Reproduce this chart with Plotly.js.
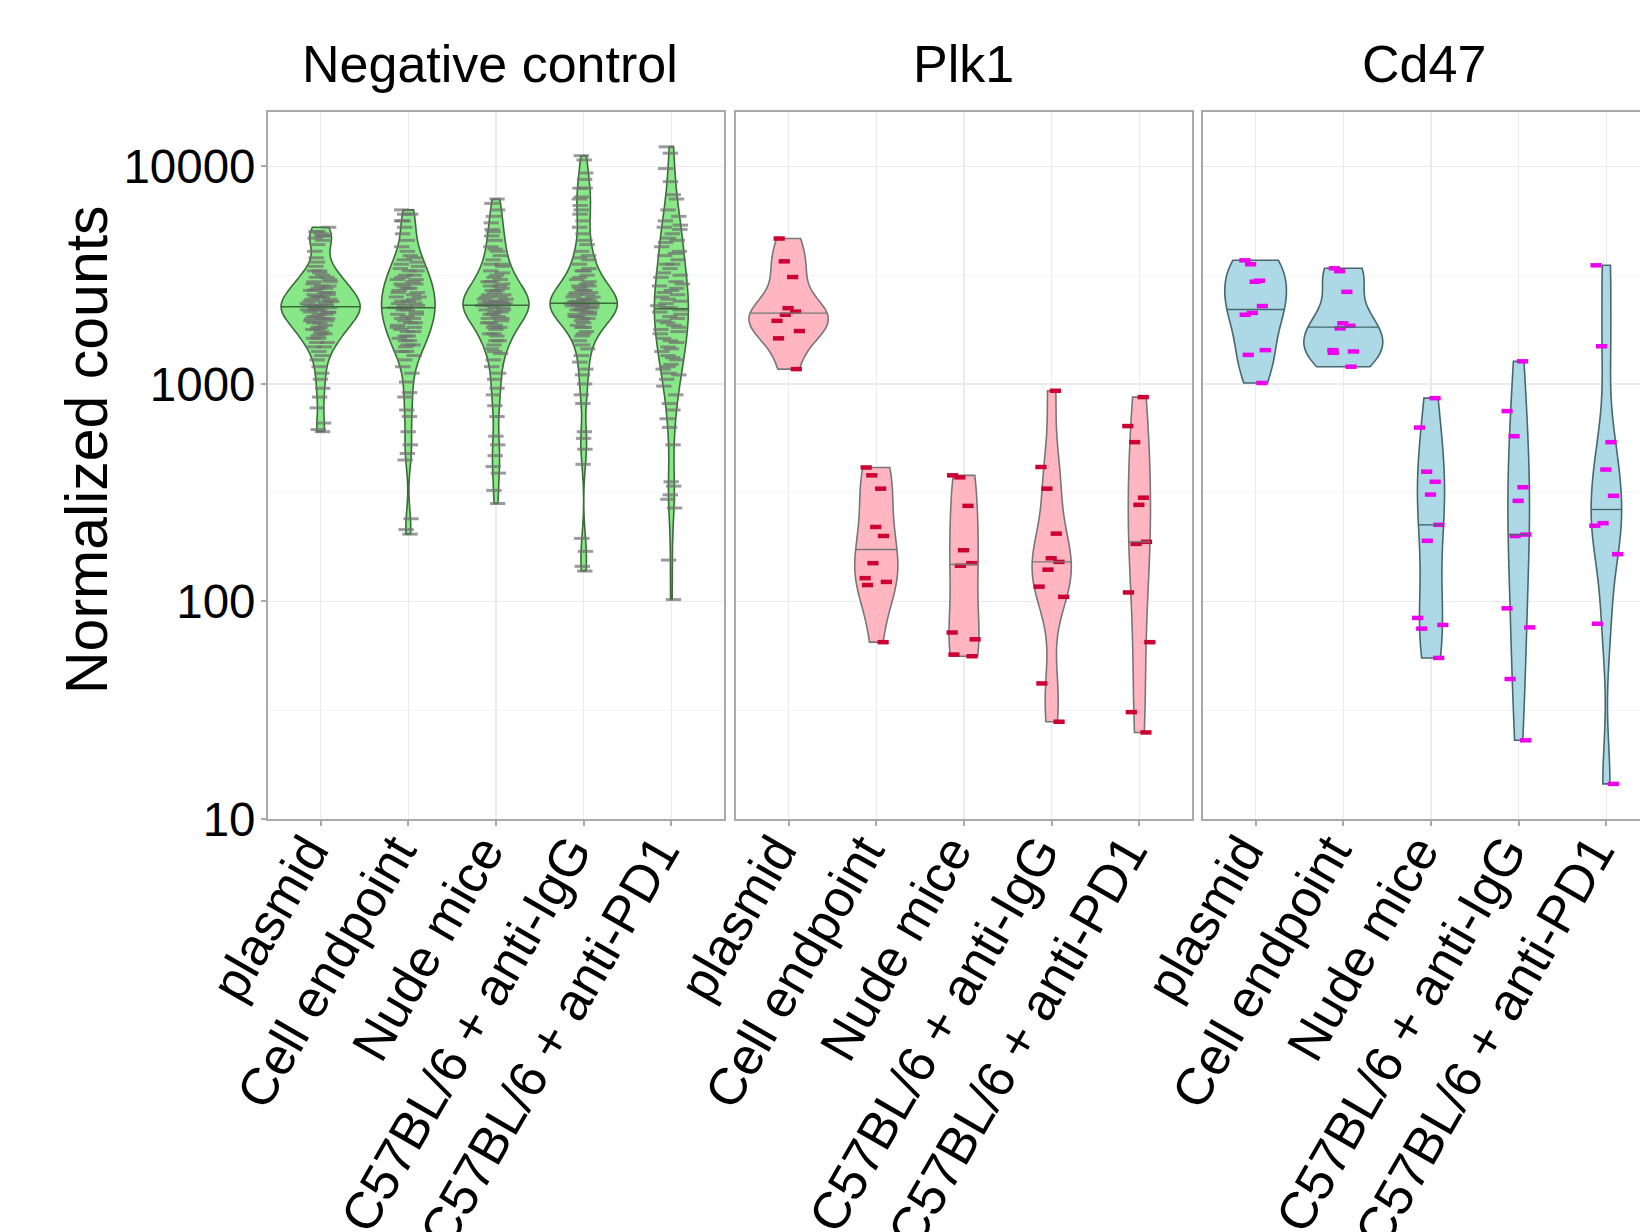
<!DOCTYPE html>
<html><head><meta charset="utf-8">
<script src="https://cdn.plot.ly/plotly-3.0.1.min.js"></script>
<style>html,body{margin:0;padding:0;overflow:hidden;background:#fff}#chart{width:1680px;height:1300px}</style>
</head><body><div id="chart"></div>
<script>
const categories = ["plasmid", "Cell endpoint", "Nude mice", "C57BL/6 + anti-IgG", "C57BL/6 + anti-PD1"];
const panelTitles = ["Negative control", "Plk1", "Cd47"];
const yTickVals = [10, 100, 1000, 10000];
const yTickText = ["10", "100", "1000", "10000"];

// Negative control (normalized counts)
const negPlasmid = [5250,5010,4900,4790,4680,4570,4370,4070,3800,3630,3470,3310,3240,3160,3090,3020,2950,2880,2820,2750,2690,2700,2630,2570,2510,2520,2450,2400,2390,2340,2290,2300,2240,2230,2190,2140,2130,2090,2040,2000,1990,1950,1910,1860,1820,1780,1740,1700,1660,1620,1550,1480,1410,1350,1290,1200,1120,1050,955,870,776,661,617,603,
  3310,3090,2950,2820,2750,2630,2570,2510,2450,2400,2340,2290,2295,2240,2185,2190,2140,2090,2040,1995,1950,1905,1820,1780,1700,1620,1550,1480,4790,5010];
const negCell = [6310,6030,5620,5250,4900,4570,4270,4070,3890,3720,3630,3470,3390,3310,3160,3090,3020,2950,2880,2820,2750,2690,2630,2570,2510,2450,2400,2340,2350,2290,2240,2190,2140,2090,2040,2000,1950,1910,1860,1820,1780,1740,1660,1620,1580,1510,1480,1410,1350,1290,1200,1120,1020,912,871,759,708,603,525,479,447,240,214,204,
  3800,3550,3310,3160,3020,2880,2750,2630,2510,2400,2290,2240,2190,2090,2000,1910,1820,1740,1660,1580,1510,1410,5620,6030];
const negNude = [7080,6760,6310,5890,5500,5130,4790,4570,4270,4070,3890,3720,3550,3470,3310,3240,3090,3020,2950,2880,2820,2750,2690,2630,2570,2510,2450,2400,2390,2340,2350,2290,2300,2240,2190,2140,2090,2040,2000,1950,1910,1860,1820,1780,1700,1660,1580,1510,1450,1380,1290,1200,1120,1050,955,891,794,708,575,525,468,417,389,324,282,
  3550,3160,2950,2820,2690,2570,2510,2450,2400,2340,2345,2290,2240,2190,2140,2090,2000,1910,1820,1700,1580,4170,5010,1410];
const negIgG = [11200,10700,9330,8710,7940,7240,6610,6310,6030,5620,5250,4900,4570,4370,4070,3890,3720,3550,3390,3310,3160,3090,2950,2880,2820,2750,2690,2630,2570,2510,2450,2400,2340,2350,2290,2300,2240,2190,2140,2090,2040,2000,1950,1860,1820,1740,1660,1580,1510,1450,1350,1260,1170,1100,1000,891,813,603,562,501,427,195,170,145,138,
  3020,2820,2690,2630,2570,2510,2450,2400,2395,2340,2350,2290,2285,2240,2235,2190,2140,2090,2040,2000,1910,1820,1700,3310,3800,7080,7940];
const negPD1 = [12300,11500,9770,8510,7410,7080,6310,5890,5620,5370,5130,4900,4680,4470,4270,4070,3890,3720,3550,3390,3240,3090,2950,2820,2690,2570,2510,2450,2340,2290,2240,2190,2140,2040,1950,1860,1780,1700,1620,1550,1480,1410,1350,1290,1230,1170,1120,1050,977,891,813,759,692,631,525,355,339,309,295,269,155,102,
  5250,4570,3980,3550,3160,2880,2630,2400,2240,2090,1910,1740,1580,1450,1320,1200,1100,2750,2000,1820];

// Plk1
const plkPlasmid = [4660,3660,3100,2230,2150,2080,1950,1750,1620,1170];
const plkCell = [413,380,330,220,200,150,128,123,119,65];
const plkNude = [380,372,275,172,150,146,72,67,57,56];
const plkIgG = [930,415,330,205,158,152,140,117,105,42,28];
const plkPD1 = [870,640,540,300,278,188,184,110,65,31,25];

// Cd47
const cdPlasmid = [3700,3550,2980,2950,2280,2120,2080,1430,1360,1010];
const cdCell = [3400,3300,2650,1900,1850,1800,1430,1410,1390,1200];
const cdNude = [860,630,395,355,310,225,190,84,78,75,55];
const cdIgG = [1270,750,575,335,290,203,200,93,76,44,23];
const cdPD1 = [3510,1490,540,404,306,229,223,165,79,14.5];

const panelData = [
  [negPlasmid, negCell, negNude, negIgG, negPD1],
  [plkPlasmid, plkCell, plkNude, plkIgG, plkPD1],
  [cdPlasmid, cdCell, cdNude, cdIgG, cdPD1]
];

const styles = [
  {fill: '#88E888', line: '#3C6A3C', pt: 'rgba(112,112,112,0.7)', size: 11, pw: 3, jit: 0.35},
  {fill: '#FFB6C1', line: '#777777', pt: '#CC0033', size: 8, pw: 4.5, jit: 0.4},
  {fill: '#ADD8E6', line: '#48676E', pt: '#EE00EE', size: 8, pw: 4.5, jit: 0.4}
];

function sortedCopy(v){ return v.slice().sort((a,b)=>a-b); }
function quant(s, p){ const h=(s.length-1)*p, lo=Math.floor(h), hi=Math.min(lo+1,s.length-1); return s[lo]+(h-lo)*(s[hi]-s[lo]); }
function nrd0(v){
  const n=v.length, s=sortedCopy(v);
  const mean=v.reduce((a,b)=>a+b,0)/n;
  const sd=Math.sqrt(v.reduce((a,b)=>a+(b-mean)*(b-mean),0)/(n-1));
  let lo=Math.min(sd,(quant(s,0.75)-quant(s,0.25))/1.34);
  if(!(lo>0)) lo=sd||1;
  return 0.9*lo*Math.pow(n,-0.2);
}
function makeKde(vals,bw){
  const f=1/(vals.length*bw*Math.sqrt(2*Math.PI));
  return x=>{let s=0;for(const v of vals){const u=(x-v)/bw;s+=Math.exp(-0.5*u*u);}return f*s;};
}

const HALF = 0.45;
const traces = [];
const medTraces = [];
panelData.forEach((group, p) => {
  const st = styles[p];
  const xa = 'x' + (p ? p + 1 : '');
  const ya = 'y' + (p ? p + 1 : '');
  let panelMax = 0;
  const info = [];
  group.forEach((vals, i) => {
    const logs = vals.map(v => Math.log10(v));
    const bw = nrd0(logs);
    const k = makeKde(logs, bw);
    const mn = Math.min(...logs), mx = Math.max(...logs);
    const n = Math.ceil((mx - mn) / (bw / 3)), step = (mx - mn) / n;
    for (let t = mn; t < mx + step / 2; t += step) panelMax = Math.max(panelMax, k(t));
    const s = sortedCopy(logs);
    info.push({logs, bw, k, med: quant(s, 0.5), i});
  });
  info.forEach(d => {
    traces.push({
      type: 'violin', x: d.logs.map(() => d.i), y: d.logs, xaxis: xa, yaxis: ya,
      scalegroup: 'g' + p, scalemode: 'width', spanmode: 'hard', bandwidth: d.bw,
      fillcolor: st.fill, line: {color: st.line, width: 1.6},
      points: 'all', jitter: st.jit, pointpos: 0,
      marker: {symbol: 'line-ew', size: st.size, color: st.pt, line: {color: st.pt, width: st.pw}},
      box: {visible: false}, meanline: {visible: false},
      hoverinfo: 'skip', showlegend: false
    });
    const hw = HALF * d.k(d.med) / panelMax;
    medTraces.push({
      type: 'scatter', mode: 'lines', x: [d.i - hw, d.i + hw], y: [d.med, d.med],
      xaxis: xa, yaxis: ya, line: {color: st.line, width: 1.4},
      hoverinfo: 'skip', showlegend: false
    });
  });
});

const W = 1680, H = 1300, L = 268, R = 1659, T = 112, B = 819;
const pw = R - L;
const doms = [[268, 724], [736, 1192], [1203, 1659]].map(d => [(d[0]-L)/pw, (d[1]-L)/pw]);
const titleShift = [-6, 0, -7];
const FONT = 'Liberation Sans, Arial, sans-serif';
const gridCol = '#ebebeb', borderCol = '#a9a9a9';
const logTicks = yTickVals.map(v => Math.log10(v));

const layout = {
  width: W, height: H,
  margin: {l: L, r: W - R, t: T, b: H - B, pad: 0},
  paper_bgcolor: '#fff', plot_bgcolor: '#fff',
  violinmode: 'overlay', violingap: 0.1, violingroupgap: 0,
  showlegend: false,
  font: {family: FONT, color: '#000'},
  annotations: []
};
doms.forEach((d, p) => {
  const sfx = p ? p + 1 : '';
  layout['xaxis' + sfx] = {
    domain: d, anchor: 'y' + sfx, range: [-0.6, 4.6],
    tickmode: 'array', tickvals: [0,1,2,3,4], ticktext: categories, tickangle: -60,
    tickfont: {size: 52, family: FONT, color: '#000'},
    ticks: 'outside', ticklen: 5, tickwidth: 2, tickcolor: borderCol,
    ticklabelstandoff: -26, ticklabelshift: -13,
    showline: true, mirror: true, linecolor: borderCol, linewidth: 2,
    showgrid: true, gridcolor: gridCol, gridwidth: 1.5, zeroline: false, fixedrange: true
  };
  layout['yaxis' + sfx] = {
    domain: [0, 1], anchor: 'x' + sfx, range: [1, 4.25],
    tickmode: 'array', tickvals: logTicks, ticktext: yTickText,
    tickfont: {size: 47.5, family: FONT, color: '#000'},
    showticklabels: p === 0, ticks: p === 0 ? 'outside' : '', ticklen: 5, tickwidth: 2, tickcolor: borderCol,
    ticklabelstandoff: -4,
    showline: true, mirror: true, linecolor: borderCol, linewidth: 2,
    showgrid: true, gridcolor: gridCol, gridwidth: 1.5, zeroline: false, fixedrange: true,
    minor: {tickvals: [1.5, 2.5, 3.5], showgrid: true, gridcolor: '#f4f4f4', gridwidth: 1, ticks: ''}
  };
  if (p) layout['yaxis' + sfx].matches = 'y';
  layout.annotations.push({
    text: panelTitles[p], xref: 'paper', yref: 'paper',
    x: ((d[0] + d[1]) / 2 * pw + titleShift[p]) / pw, y: (B - 64) / (B - T),
    xanchor: 'center', yanchor: 'middle', showarrow: false, font: {size: 52, family: FONT, color: '#000'}
  });
});
layout.annotations.push({
  text: 'Normalized counts', xref: 'paper', yref: 'paper', x: (87 - L) / pw, y: (B - 450) / (B - T),
  xanchor: 'center', yanchor: 'middle', textangle: -90, showarrow: false,
  font: {size: 59, family: FONT, color: '#000'}
});

Plotly.newPlot('chart', traces.concat(medTraces), layout, {displayModeBar: false, staticPlot: true});
</script></body></html>
